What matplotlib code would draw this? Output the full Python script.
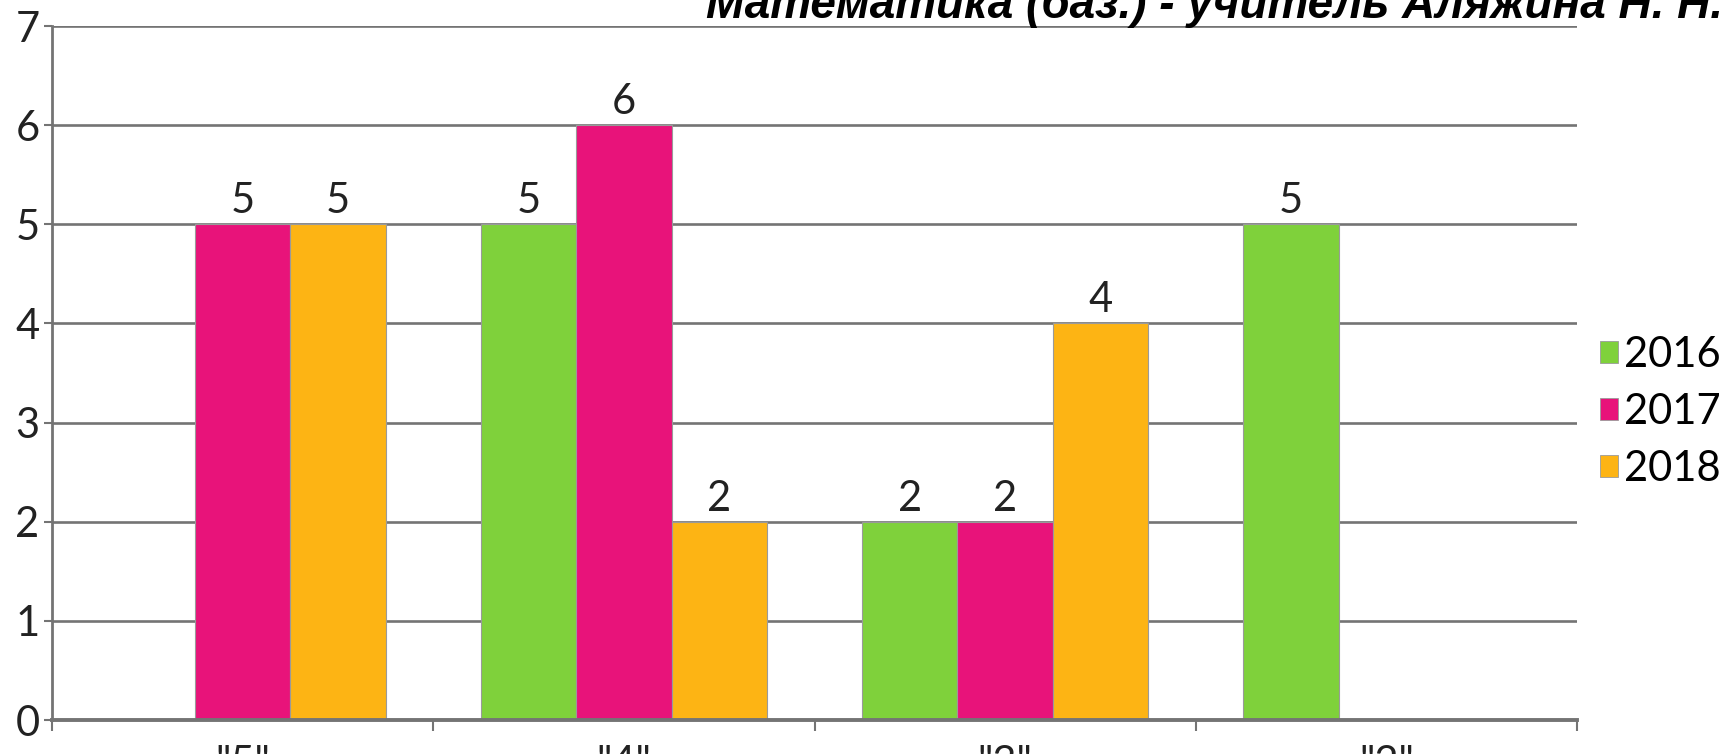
import numpy as np
import matplotlib
matplotlib.use("Agg")
import matplotlib.pyplot as plt
from matplotlib.patches import Patch

categories = ['"5"', '"4"', '"3"', '"2"']
years = ["2016", "2017", "2018"]
v2016 = [0, 5, 2, 5]
v2017 = [5, 6, 2, 0]
v2018 = [5, 2, 4, 0]
colors = ["#7FD13B", "#E8137A", "#FDB414"]
title = "Математика (баз.) - учитель Аляжина Н. Н."

W, H = 1729, 754
fig = plt.figure(figsize=(W / 100, H / 100), dpi=100)
ax = fig.add_axes([52 / W, (H - 720) / H, (1577 - 52) / W, 694 / H])

fs = 30
fam = "Lato"
grid_c = "#747474"

x = np.arange(len(categories))
w = 0.25
series = [v2016, v2017, v2018]
for i, (vals, c) in enumerate(zip(series, colors)):
    bars = ax.bar(x + (i - 1) * w, vals, w, color=c, edgecolor="#9a9a9a",
                  linewidth=0.8, zorder=3)
    labels = [str(v) if v else "" for v in vals]
    ax.bar_label(bars, labels=labels, padding=3, fontsize=fs, family=fam,
                 color="#222222")

ax.set_xlim(-0.5, len(categories) - 0.5)
ax.set_ylim(0, 7)
ax.set_yticks(range(8))
ax.yaxis.grid(True, color=grid_c, linewidth=1.9, zorder=0)
ax.set_axisbelow(True)

ax.set_xticks(x)
ax.set_xticklabels(categories, fontsize=fs, family=fam, color="#222222")
ax.tick_params(axis="x", which="major", length=0, pad=18)
ax.set_xticks(np.arange(-0.5, len(categories)), minor=True)
ax.tick_params(axis="x", which="minor", length=8, width=1.5, color=grid_c)
ax.tick_params(axis="y", length=6, width=1.5, color=grid_c, pad=3,
               labelsize=fs, labelcolor="#222222")
for t in ax.get_yticklabels():
    t.set_family(fam)

for s in ["top", "right"]:
    ax.spines[s].set_visible(False)
ax.spines["left"].set_color(grid_c)
ax.spines["left"].set_linewidth(2.0)
ax.spines["bottom"].set_color(grid_c)
ax.spines["bottom"].set_linewidth(2.8)
ax.spines["left"].set_zorder(4)
ax.spines["bottom"].set_zorder(4)

handles = [Patch(facecolor=c, edgecolor="#9a9a9a", linewidth=0.6) for c in colors]
fig.legend(handles, years, loc="center left", bbox_to_anchor=(1600 / W, (H - 412) / H),
           frameon=False, prop={"family": fam, "size": fs}, handlelength=0.43,
           handleheight=0.43, handletextpad=0.15, labelspacing=0.45,
           borderpad=0, borderaxespad=0)

tt = fig.text(706 / W, (H - 18) / H, title, ha="left", va="baseline",
              fontsize=30, family="Liberation Sans", weight="bold", style="italic")
fig.canvas.draw()
bb = tt.get_window_extent()
tt.set_fontsize(30 * 1016 / bb.width)

fig.savefig("out.png", dpi=100)
